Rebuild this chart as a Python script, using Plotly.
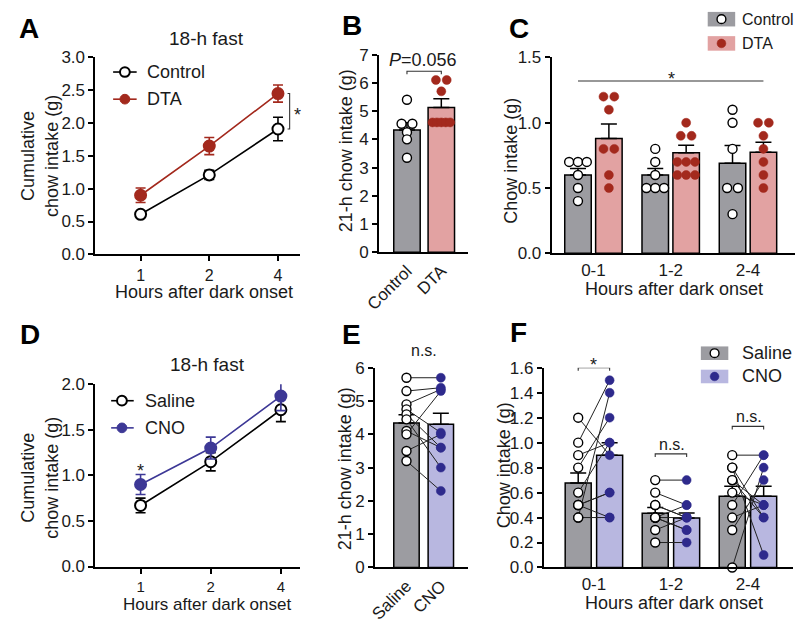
import plotly.graph_objects as go
from collections import Counter, defaultdict

W, H = 797, 625
FONT = "Liberation Sans, Arial, Helvetica, sans-serif"

BLACK = "#000000"
TXT = "#1a1a1a"
GRAY_BAR = "#9c9ca1"
DTA_RED = "#a3291d"
DTA_BAR = "#e2a2a2"
CNO_BLUE = "#2e2a8c"
CNO_BAR = "#b8b7e0"
CNO_LINE = "#3d3896"

# ---------------- data ----------------
hours_labels = ["1", "2", "4"]
a_control_mean = [0.61, 1.21, 1.91]
a_control_sem = [0.03, 0.07, 0.18]
a_dta_mean = [0.90, 1.65, 2.45]
a_dta_sem = [0.11, 0.13, 0.13]

b_groups = ["Control", "DTA"]
b_mean = [4.33, 5.13]
b_sem = [0.26, 0.31]
b_control_pts = [5.4, 4.55, 4.55, 4.25, 4.0, 3.35]
b_dta_pts = [6.1, 6.1, 5.7, 4.6, 4.6, 4.6, 4.6, 4.6]

bins = ["0-1", "1-2", "2-4"]
c_control_mean = [0.60, 0.60, 0.69]
c_control_sem = [0.05, 0.05, 0.135]
c_dta_mean = [0.88, 0.77, 0.775]
c_dta_sem = [0.11, 0.057, 0.075]
c_control_pts = [[0.7, 0.7, 0.7, 0.6, 0.5, 0.4],
                 [0.8, 0.7, 0.6, 0.5, 0.5, 0.5],
                 [1.1, 1.0, 0.8, 0.5, 0.5, 0.3]]
c_dta_pts = [[1.2, 1.2, 1.1, 0.8, 0.8, 0.6, 0.5],
             [1.0, 0.9, 0.9, 0.7, 0.7, 0.7, 0.6, 0.6, 0.6],
             [1.0, 1.0, 0.9, 0.8, 0.7, 0.6, 0.5]]

d_saline_mean = [0.67, 1.15, 1.72]
d_saline_sem = [0.08, 0.10, 0.13]
d_cno_mean = [0.90, 1.30, 1.87]
d_cno_sem = [0.11, 0.12, 0.16]

e_groups = ["Saline", "CNO"]
e_mean = [4.34, 4.30]
e_sem = [0.25, 0.33]
e_saline_pts = [5.7, 5.3, 4.9, 4.75, 4.6, 4.45, 4.1, 4.0, 3.5, 3.2]
e_cno_pts = [5.7, 5.4, 5.35, 4.05, 3.6, 3.0, 3.6, 5.3, 4.0, 2.3]

f_saline_mean = [0.676, 0.435, 0.57]
f_saline_sem = [0.08, 0.045, 0.08]
f_cno_mean = [0.90, 0.396, 0.57]
f_cno_sem = [0.10, 0.04, 0.08]
f_saline_pts = [[1.2, 1.0, 0.9, 0.8, 0.6, 0.5, 0.4, 0.4, 0.5, 0.5],
                [0.7, 0.6, 0.5, 0.4, 0.3, 0.2, 0.5, 0.4, 0.4, 0.4],
                [0.9, 0.8, 0.7, 0.6, 0.5, 0.4, 0.3, 0.0, 0.7, 0.8]]
f_cno_pts = [[0.9, 1.5, 1.0, 1.2, 1.0, 0.6, 0.4, 1.4, 0.6, 0.4],
             [0.7, 0.5, 0.4, 0.3, 0.4, 0.2, 0.4, 0.5, 0.4, 0.3],
             [0.9, 0.1, 0.4, 0.5, 0.9, 0.5, 0.7, 0.8, 0.5, 0.4]]

# ---------------- geometry (pixels) ----------------
P = {
    "A": dict(xp=(82, 290), yp=(50, 253), xr=(-0.657, 2.314), yr=(0, 3)),
    "B": dict(xp=(371, 462), yp=(47, 251), xr=(-0.814, 1.786), yr=(0, 7)),
    "C": dict(xp=(547, 795), yp=(50, 252), xr=(-0.54, 2.609), yr=(0, 1.5)),
    "D": dict(xp=(82, 290), yp=(387, 575), xr=(-0.643, 2.266), yr=(0, 2)),
    "E": dict(xp=(367, 462), yp=(370, 576), xr=(-0.914, 1.80), yr=(0, 6)),
    "F": dict(xp=(539, 793), yp=(370, 576), xr=(-0.65, 2.586), yr=(0, 1.6)),
}
AX = {"A": ("x", "y"), "B": ("x2", "y2"), "C": ("x3", "y3"),
      "D": ("x4", "y4"), "E": ("x5", "y5"), "F": ("x6", "y6")}

TICK_SIZE = 17
TITLE_SIZE = 18


def ppu_x(k):
    p = P[k]
    return (p["xp"][1] - p["xp"][0]) / (p["xr"][1] - p["xr"][0])


def fx(px):
    return px / W


def fy(py):
    return 1 - py / H


def swarm(values, center, ppu, step=11.0, maxspan=18.0):
    counts = Counter(values)
    seen = defaultdict(int)
    out = []
    for v in values:
        n = counts[v]
        k = seen[v]
        seen[v] += 1
        sp = min(step, maxspan / (n - 1)) if n > 1 else 0
        out.append(center + (k - (n - 1) / 2) * sp / ppu)
    return out


fig = go.Figure()


def line_trace(k, y, err, color, filled):
    xa, ya = AX[k]
    fig.add_trace(go.Scatter(
        x=list(range(len(hours_labels))), y=y, xaxis=xa, yaxis=ya,
        mode="lines+markers", cliponaxis=False,
        line=dict(color=color, width=1.6),
        marker=dict(symbol="circle", size=11, color=color if filled else "white",
                    line=dict(color=color, width=2)),
        error_y=dict(type="data", array=err, color=color, thickness=1.6, width=5),
    ))


def bar_trace(k, x, y, err, colors, width):
    xa, ya = AX[k]
    fig.add_trace(go.Bar(
        x=x, y=y, width=width, xaxis=xa, yaxis=ya,
        marker=dict(color=colors, line=dict(color=BLACK, width=1.5)),
        error_y=dict(type="data", symmetric=False, array=err, arrayminus=[0] * len(err),
                     color=BLACK, thickness=1.5, width=8),
    ))


def dots(k, x, y, color, filled, size=9):
    xa, ya = AX[k]
    fig.add_trace(go.Scatter(
        x=x, y=y, xaxis=xa, yaxis=ya, mode="markers", cliponaxis=False,
        marker=dict(symbol="circle", size=size, color=color if filled else "white",
                    line=dict(color=color if filled else BLACK, width=1.4 if not filled else 0.5)),
    ))


def seg(k, xs, ys, color="#333333", width=1.1):
    xa, ya = AX[k]
    fig.add_trace(go.Scatter(x=xs, y=ys, xaxis=xa, yaxis=ya, mode="lines",
                             cliponaxis=False, line=dict(color=color, width=width),
                             hoverinfo="skip"))


# ---------------- Panel A ----------------
line_trace("A", a_control_mean, a_control_sem, BLACK, False)
line_trace("A", a_dta_mean, a_dta_sem, DTA_RED, True)
seg("A", [2.14, 2.17, 2.17, 2.14], [a_dta_mean[2], a_dta_mean[2], a_control_mean[2], a_control_mean[2]])

# ---------------- Panel B ----------------
bar_trace("B", [0, 1], b_mean, b_sem, [GRAY_BAR, DTA_BAR], 0.77)
dots("B", swarm(b_control_pts, 0, ppu_x("B")), b_control_pts, BLACK, False)
dots("B", swarm(b_dta_pts, 1, ppu_x("B")), b_dta_pts, DTA_RED, True)
seg("B", [0, 0, 1, 1], [6.3, 6.41, 6.41, 6.3])

# ---------------- Panel C ----------------
OFF_C = 0.2
bar_trace("C", [i - OFF_C for i in range(3)], c_control_mean, c_control_sem, GRAY_BAR, 0.343)
bar_trace("C", [i + OFF_C for i in range(3)], c_dta_mean, c_dta_sem, DTA_BAR, 0.343)
for i in range(3):
    dots("C", swarm(c_control_pts[i], i - OFF_C, ppu_x("C")), c_control_pts[i], BLACK, False)
    dots("C", swarm(c_dta_pts[i], i + OFF_C, ppu_x("C")), c_dta_pts[i], DTA_RED, True)
seg("C", [-OFF_C, 2 + OFF_C], [1.32, 1.32])

# ---------------- Panel D ----------------
line_trace("D", d_saline_mean, d_saline_sem, BLACK, False)
line_trace("D", d_cno_mean, d_cno_sem, CNO_LINE, True)

# ---------------- Panel E ----------------
bar_trace("E", [0, 1], e_mean, e_sem, [GRAY_BAR, CNO_BAR], 0.74)
xs, ys = [], []
for s, c in zip(e_saline_pts, e_cno_pts):
    xs += [0, 1, None]
    ys += [s, c, None]
seg("E", xs, ys, color="#222222", width=1)
dots("E", [0] * len(e_saline_pts), e_saline_pts, BLACK, False)
dots("E", [1] * len(e_cno_pts), e_cno_pts, CNO_BLUE, True)
seg("E", [0, 0, 1, 1], [6.08, 6.2, 6.2, 6.08])

# ---------------- Panel F ----------------
OFF_F = 0.204
bar_trace("F", [i - OFF_F for i in range(3)], f_saline_mean, f_saline_sem, GRAY_BAR, 0.338)
bar_trace("F", [i + OFF_F for i in range(3)], f_cno_mean, f_cno_sem, CNO_BAR, 0.338)
for i in range(3):
    xs, ys = [], []
    for s, c in zip(f_saline_pts[i], f_cno_pts[i]):
        xs += [i - OFF_F, i + OFF_F, None]
        ys += [s, c, None]
    seg("F", xs, ys, color="#222222", width=1)
for i in range(3):
    dots("F", [i - OFF_F] * len(f_saline_pts[i]), f_saline_pts[i], BLACK, False)
    dots("F", [i + OFF_F] * len(f_cno_pts[i]), f_cno_pts[i], CNO_BLUE, True)
for i, yb in zip(range(3), [1.6, 0.91, 1.13]):
    seg("F", [i - OFF_F, i - OFF_F, i + OFF_F, i + OFF_F], [yb - 0.025, yb, yb, yb - 0.025])

# ---------------- axes ----------------
layout = dict(
    width=W, height=H, margin=dict(l=0, r=0, t=0, b=0),
    paper_bgcolor="white", plot_bgcolor="white", showlegend=False,
    barmode="overlay", font=dict(family=FONT, color=TXT),
)

ytick_cfg = {
    "A": dict(dtick=0.5, tickformat=".1f"),
    "B": dict(dtick=1, tickformat="d"),
    "C": dict(dtick=0.5, tickformat=".1f"),
    "D": dict(dtick=0.5, tickformat=".1f"),
    "E": dict(dtick=1, tickformat="d"),
    "F": dict(dtick=0.2, tickformat=".1f"),
}
xtick_cfg = {
    "A": dict(tickvals=[0, 1, 2], ticktext=hours_labels, ticks="outside"),
    "B": dict(tickvals=[0, 1], ticktext=b_groups, ticks="", tickangle=-45),
    "C": dict(tickvals=[0, 1, 2], ticktext=bins, ticks=""),
    "D": dict(tickvals=[0, 1, 2], ticktext=hours_labels, ticks="outside"),
    "E": dict(tickvals=[0, 1], ticktext=e_groups, ticks="", tickangle=-45),
    "F": dict(tickvals=[0, 1, 2], ticktext=bins, ticks=""),
}
for k, (xa, ya) in AX.items():
    p = P[k]
    xname = "xaxis" + xa[1:]
    yname = "yaxis" + ya[1:]
    common = dict(showline=True, linecolor=BLACK, linewidth=2, showgrid=False,
                  zeroline=False, tickcolor=BLACK, tickwidth=2, ticklen=5,
                  tickfont=dict(family=FONT, size=TICK_SIZE, color=TXT), fixedrange=True)
    xcommon = dict(common)
    if k == "A":
        xcommon["tickfont"] = dict(family=FONT, size=16, color=TXT)
    if k == "D":
        xcommon["tickfont"] = dict(family=FONT, size=15, color=TXT)
    layout[xname] = dict(xcommon, domain=[fx(p["xp"][0]), fx(p["xp"][1])], range=list(p["xr"]),
                         anchor=ya, **xtick_cfg[k])
    layout[yname] = dict(common, domain=[fy(p["yp"][1]), fy(p["yp"][0])], range=list(p["yr"]),
                         anchor=xa, ticks="outside", **ytick_cfg[k])

# ---------------- annotations & legend shapes ----------------
ann = []
shapes = []


def text(px, py, s, size=TITLE_SIZE, xanchor="center", yanchor="middle", angle=0, bold=False, color=TXT):
    ann.append(dict(x=fx(px), y=fy(py), xref="paper", yref="paper", text=("<b>%s</b>" % s) if bold else s,
                    showarrow=False, xanchor=xanchor, yanchor=yanchor, textangle=angle,
                    font=dict(family=FONT, size=size, color=color)))


# panel letters
for letter, (lx, ly) in {"A": (14, 20), "B": (343, 17), "C": (514, 20),
                         "D": (15, 336), "E": (343, 336), "F": (513, 334)}.items():
    text(lx, ly, letter, size=28, bold=True, color=BLACK)

# titles
text(195, 30, "18-h fast", size=19)
text(196, 367, "18-h fast", size=19)

# y titles
text(25, 152, "Cumulative<br>chow intake (g)", angle=-90)
text(337, 146, "21-h chow intake (g)", angle=-90)
text(506, 156, "Chow intake (g)", angle=-90)
text(25, 484, "Cumulative<br>chow intake (g)", angle=-90)
text(336, 474, "21-h chow intake (g)", angle=-90)
text(498, 471, "Chow intake (g)", angle=-90)

# x titles
text(193, 292, "Hours after dark onset")
text(672, 289, "Hours after dark onset")
text(196, 614, "Hours after dark onset", size=17)
text(672, 613, "Hours after dark onset")

# significance labels
text(288, 109, "*", size=18)
text(416, 53, "<i>P</i>=0.056", size=18)
text(669, 72, "*", size=18)
text(128, 476, "*", size=18)
text(417, 352, "n.s.", size=16)
text(590, 367, "*", size=18)
text(670, 449, "n.s.", size=16)
text(748, 420, "n.s.", size=16)


def circle(cx, cy, d, fill, line_color, lw):
    shapes.append(dict(type="circle", xref="paper", yref="paper",
                       x0=fx(cx - d / 2), x1=fx(cx + d / 2), y0=fy(cy + d / 2), y1=fy(cy - d / 2),
                       fillcolor=fill, line=dict(color=line_color, width=lw)))


def hline(x0, x1, y, color, lw):
    shapes.append(dict(type="line", xref="paper", yref="paper", x0=fx(x0), x1=fx(x1),
                       y0=fy(y), y1=fy(y), line=dict(color=color, width=lw)))


def rect(x0, y0, x1, y1, fill):
    shapes.append(dict(type="rect", xref="paper", yref="paper", x0=fx(x0), x1=fx(x1),
                       y0=fy(y1), y1=fy(y0), fillcolor=fill, line=dict(width=0)))


# legend A
hline(100, 124, 65, BLACK, 1.6)
circle(112, 65, 10, "white", BLACK, 2)
text(132, 65, "Control", xanchor="left")
hline(100, 124, 93, DTA_RED, 1.6)
circle(112, 93, 10, DTA_RED, DTA_RED, 1)
text(132, 93, "DTA", xanchor="left")

# legend D
hline(98, 121, 404, BLACK, 1.6)
circle(109, 404, 10, "white", BLACK, 2)
text(130, 404, "Saline", xanchor="left")
hline(98, 121, 432, CNO_LINE, 1.6)
circle(109, 432, 10, CNO_LINE, CNO_LINE, 1)
text(130, 432, "CNO", xanchor="left")

# legend C
rect(706, 3, 734, 18, GRAY_BAR)
circle(720, 10.5, 9, "white", BLACK, 1.4)
text(739, 11, "Control", size=16, xanchor="left")
rect(706, 28, 734, 43, DTA_BAR)
circle(720, 35.5, 9, DTA_RED, DTA_RED, 0.5)
text(739, 36, "DTA", size=16, xanchor="left")

# legend F
rect(699, 348, 727, 362, GRAY_BAR)
circle(713, 355, 9, "white", BLACK, 1.4)
text(739, 355, "Saline", xanchor="left")
rect(699, 372, 727, 386, CNO_BAR)
circle(713, 379, 9, CNO_BLUE, CNO_BLUE, 0.5)
text(739, 379, "CNO", xanchor="left")

layout["annotations"] = ann
layout["shapes"] = shapes
fig.update_layout(**layout)

fig.write_html("out.html", config={"displayModeBar": False, "staticPlot": True},
               post_script="document.body.style.margin='0';document.body.style.overflow='hidden';")
